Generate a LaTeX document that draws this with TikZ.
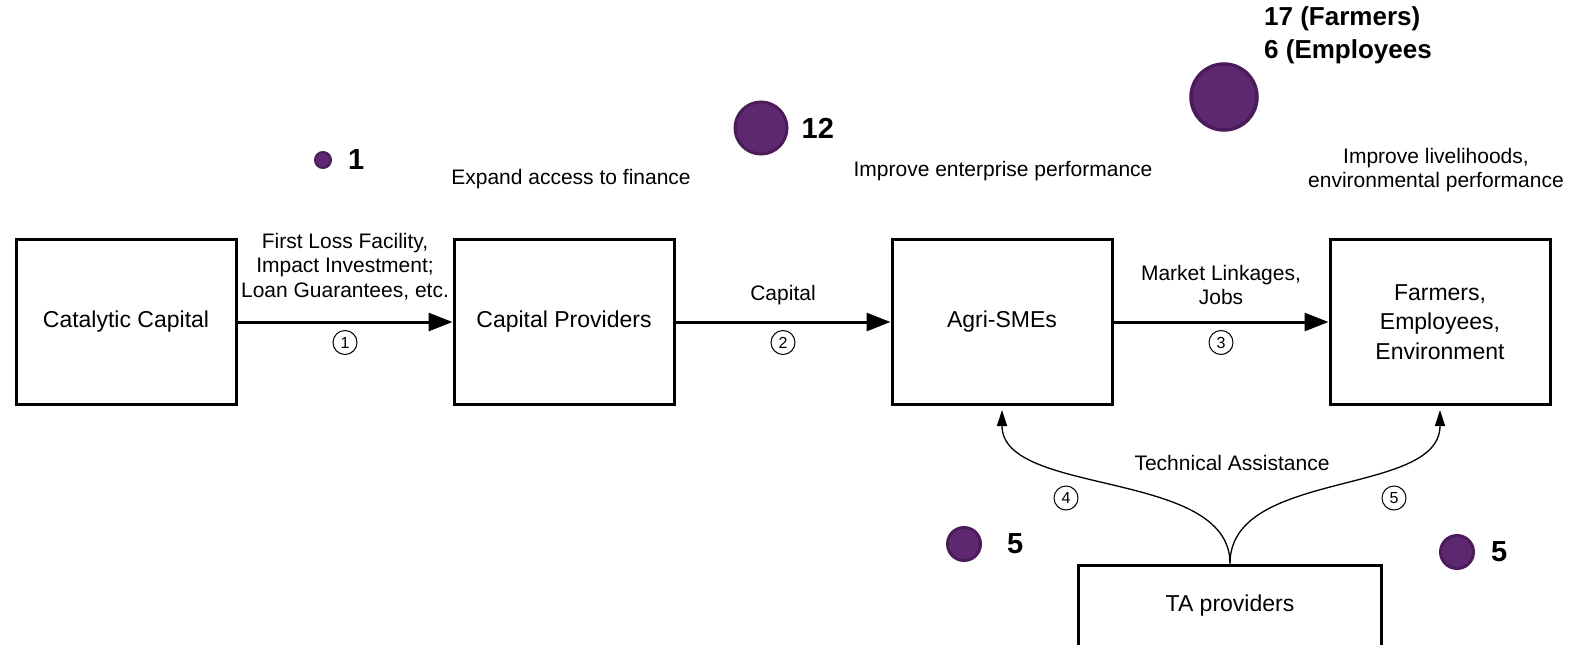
\documentclass[tikz,border=0pt]{standalone}
\usepackage{fontspec}
\setmainfont{Liberation Sans}
\usepackage{tikz}
\usetikzlibrary{arrows.meta,positioning}
\definecolor{dotfill}{HTML}{5E2870}
\definecolor{dotline}{HTML}{4A1C5A}

\begin{document}
\begin{tikzpicture}[x=1pt,y=-1pt,>={Triangle[length=24pt,width=18pt]},node distance=215pt,
    box/.style={draw,line width=3pt,minimum width=220pt,minimum height=165pt,align=center,font=\fontsize{23}{29.5}\selectfont},
    flow/.style={->,line width=3pt},
    ta flow/.style={-{Triangle[length=16pt,width=10pt]},line width=1.3pt,shorten >=4pt},
    lbl/.style={align=center,font=\fontsize{21}{24.5}\selectfont},
    num/.style={circle,draw,line width=1pt,inner sep=0pt,minimum size=24pt,font=\fontsize{16}{16}\selectfont},
    dot/.style={circle,fill=dotfill,draw=dotline,line width=3pt,inner sep=0pt},
    count/.style={inner sep=0pt,font=\bfseries\fontsize{29}{33}\selectfont}]
    \useasboundingbox (0,0) rectangle (1593,645);
    \clip (0,0) rectangle (1593,645);

    % chain of boxes
    \node[box] (cc) at (126,322) {Catalytic Capital};
    \node[box] (cp) [right=of cc] {Capital Providers};
    \node[box] (sme) [right=of cp] {Agri-SMEs};
    \node[box] (farm) [right=of sme] {Farmers,\\Employees,\\Environment};
    \node[box,minimum width=303pt,minimum height=82pt] (ta) at (1230,606) {TA providers};

    % goals
    \node[lbl] (goal1) at (571,179) {Expand access to finance};
    \node[lbl] (goal2) at (1003,171) {Improve enterprise performance};
    \node[lbl] (goal3) at (1436,170) {Improve livelihoods,\\environmental performance};

    \draw[flow] (cc) -- (cp)
        node[lbl,midway,above=17pt] {First Loss Facility,\\Impact Investment;\\Loan Guarantees, etc.}
        node[num,midway,below=8pt] {1};
    \draw[flow] (cp) -- (sme)
        node[lbl,midway,above=12pt] {Capital}
        node[num,midway,below=8pt] {2};
    \draw[flow] (sme) -- (farm)
        node[lbl,midway,above=12pt] {Market Linkages,\\Jobs}
        node[num,midway,below=8pt] {3};

    \draw[ta flow] (ta.north) .. controls +(0,-95) and +(0,91) .. (sme.south);
    \draw[ta flow] (ta.north) .. controls +(0,-95) and +(0,91) .. (farm.south);
    \node[lbl] (tech) at (1232,463) {Technical Assistance};
    \node[num] (n4) at (1066,498) {4};
    \node[num] (n5) at (1394,498) {5};

    % number of cases
    \node[dot,minimum size=16pt,line width=2pt] (d1) at (323,160) {};
    \node[count] (c1) [right=16pt of d1] {1};
    \node[dot,minimum size=52pt] (d2) at (761,128) {};
    \node[count] (c2) [right=13pt of d2] {12};
    \node[dot,minimum size=66pt,line width=3.5pt] (d3) at (1224,97) {};
    \node[count,align=left,anchor=west,font=\bfseries\fontsize{26}{33}\selectfont] (c3) at (1264,35) {17 (Farmers)\\6 (Employees};
    \node[dot,minimum size=33pt] (d4) at (964,544) {};
    \node[count] (c4) [right=25pt of d4] {5};
    \node[dot,minimum size=33pt] (d5) at (1457,552) {};
    \node[count] (c5) [right=16pt of d5] {5};
\end{tikzpicture}
\end{document}
